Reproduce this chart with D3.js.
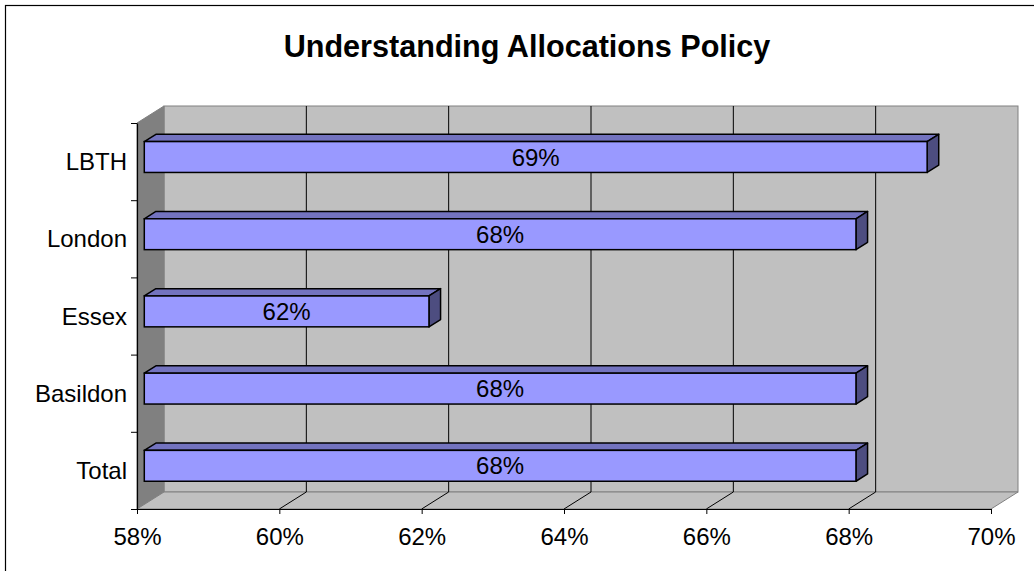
<!DOCTYPE html>
<html>
<head>
<meta charset="utf-8">
<script src="https://cdn.jsdelivr.net/npm/d3@7"></script>
<style>
  html, body { margin: 0; padding: 0; background: #fff; }
  svg { display: block; }
  text { font-family: "Liberation Sans", Arial, sans-serif; }
</style>
</head>
<body>
<svg id="chart" width="1034" height="571"></svg>
<script>
// ---- data ----
const categories = ["LBTH", "London", "Essex", "Basildon", "Total"];
const values = [69, 68, 62, 68, 68];
const valueLabels = ["69%", "68%", "62%", "68%", "68%"];
const xTicks = [58, 60, 62, 64, 66, 68, 70];
const title = "Understanding Allocations Policy";

// ---- layout ----
const W = 1034, H = 571;
const plotLeft = 137, plotRight = 991, plotTop = 123, plotBottom = 509;
const DX = 27, DY = -17;           // 3D depth offset
const f0 = 0.27, f1 = 0.70;        // bar front/back depth fractions
const fs = 24;

const svg = d3.select("#chart");

const x = d3.scaleLinear().domain([58, 70]).range([plotLeft, plotRight]);
const y = d3.scaleBand().domain(categories).range([plotTop, plotBottom])
  .paddingInner(0.6).paddingOuter(0.3);
const yEdge = d3.scaleLinear().domain([0, categories.length]).range([plotTop, plotBottom]);

// outer border
svg.append("rect").attr("x", 5.5).attr("y", 5.5).attr("width", W + 20).attr("height", H + 20)
  .attr("fill", "#fff").attr("stroke", "#000").attr("stroke-width", 1.2);

// title
svg.append("text").attr("x", 527).attr("y", 57).attr("text-anchor", "middle")
  .attr("font-size", 30.6).attr("font-weight", "bold").attr("fill", "#000").text(title);

const x0 = x.range()[0], x1 = x.range()[1];
// back wall
svg.append("rect").attr("x", x0 + DX).attr("y", plotTop + DY)
  .attr("width", x1 - x0).attr("height", plotBottom - plotTop)
  .attr("fill", "#C0C0C0").attr("stroke", "#808080").attr("stroke-width", 1);
// left wall
svg.append("polygon")
  .attr("points", [[x0, plotTop], [x0 + DX, plotTop + DY], [x0 + DX, plotBottom + DY], [x0, plotBottom]].join(" "))
  .attr("fill", "#808080").attr("stroke", "#808080").attr("stroke-width", 1);
// floor
svg.append("polygon")
  .attr("points", [[x0, plotBottom], [x1, plotBottom], [x1 + DX, plotBottom + DY], [x0 + DX, plotBottom + DY]].join(" "))
  .attr("fill", "#C0C0C0").attr("stroke", "#808080").attr("stroke-width", 1);

// gridlines
const gridVals = xTicks.filter(t => t > 58 && t < 70);
svg.append("g").selectAll("path").data(gridVals).join("path")
  .attr("d", t => `M${x(t) + DX},${plotTop + DY}L${x(t) + DX},${plotBottom + DY}L${x(t)},${plotBottom}`)
  .attr("fill", "none").attr("stroke", "#000").attr("stroke-width", 1);

// x axis
const xAxis = svg.append("g").attr("transform", `translate(0,${plotBottom})`)
  .call(d3.axisBottom(x).tickValues(xTicks).tickFormat(d => d + "%").tickSizeInner(5).tickSizeOuter(0).tickPadding(14));
xAxis.select(".domain").attr("stroke", "#000").attr("stroke-width", 1.2);
xAxis.selectAll(".tick line").attr("stroke", "#000");
xAxis.selectAll("text").attr("font-size", fs).attr("fill", "#000")
  .style("font-family", '"Liberation Sans", Arial, sans-serif');

// y axis (ticks between categories)
const yAxis = svg.append("g").attr("transform", `translate(${plotLeft},0)`)
  .call(d3.axisLeft(yEdge).tickValues(d3.range(categories.length + 1)).tickFormat("").tickSizeInner(6).tickSizeOuter(0));
yAxis.select(".domain").attr("stroke", "#000").attr("stroke-width", 1.2);
yAxis.selectAll(".tick line").attr("stroke", "#000");

// category labels
svg.append("g").selectAll("text").data(categories).join("text")
  .attr("x", plotLeft - 10)
  .attr("y", (d, i) => (yEdge(i) + yEdge(i + 1)) / 2)
  .attr("dy", "0.36em").attr("text-anchor", "end")
  .attr("font-size", fs).attr("fill", "#000").text(d => d);

// bars
const bars = svg.append("g").selectAll("g").data(categories).join("g");
const barColorFront = "#9999FF", barColorTop = "#7373BF", barColorSide = "#4D4D80";
bars.each(function (c, i) {
  const g = d3.select(this);
  const yb = y(c), h = y.bandwidth();
  const xs = x(58), xe = x(values[i]);
  const P = (xx, yy, f) => [xx + f * DX, yy + f * DY];
  // top face
  g.append("polygon").attr("points", [P(xs, yb, f0), P(xe, yb, f0), P(xe, yb, f1), P(xs, yb, f1)].join(" "))
    .attr("fill", barColorTop).attr("stroke", "#000").attr("stroke-width", 1.5).attr("stroke-linejoin", "round");
  // side face
  g.append("polygon").attr("points", [P(xe, yb, f0), P(xe, yb, f1), P(xe, yb + h, f1), P(xe, yb + h, f0)].join(" "))
    .attr("fill", barColorSide).attr("stroke", "#000").attr("stroke-width", 1.5).attr("stroke-linejoin", "round");
  // front face
  const fp = P(xs, yb, f0);
  g.append("rect").attr("x", fp[0]).attr("y", fp[1]).attr("width", xe - xs).attr("height", h)
    .attr("fill", barColorFront).attr("stroke", "#000").attr("stroke-width", 1.5);
  // label
  g.append("text").attr("x", fp[0] + (xe - xs) / 2).attr("y", fp[1] + h / 2)
    .attr("dy", "0.36em").attr("text-anchor", "middle").attr("font-size", fs).attr("fill", "#000")
    .text(valueLabels[i]);
});
</script>
</body>
</html>
